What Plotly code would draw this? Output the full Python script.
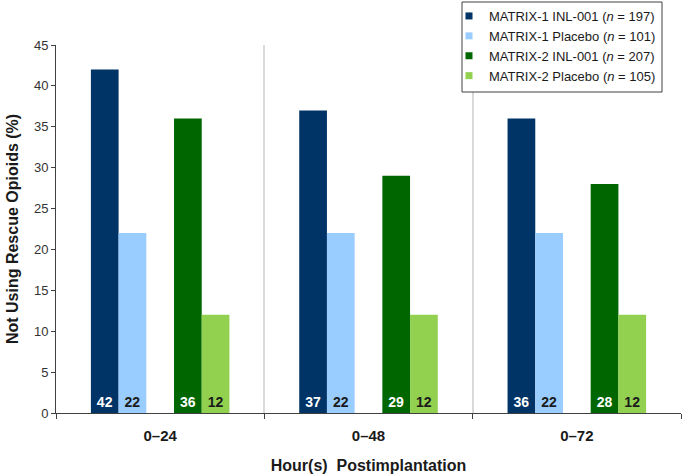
import plotly.graph_objects as go

categories = ["0–24", "0–48", "0–72"]
series_names = [
    "MATRIX-1 INL-001 (<i>n</i> = 197)",
    "MATRIX-1 Placebo (<i>n</i> = 101)",
    "MATRIX-2 INL-001 (<i>n</i> = 207)",
    "MATRIX-2 Placebo (<i>n</i> = 105)",
]
m1_inl = [42, 37, 36]
m1_pbo = [22, 22, 22]
m2_inl = [36, 29, 28]
m2_pbo = [12, 12, 12]
y_ticks = [0, 5, 10, 15, 20, 25, 30, 35, 40, 45]

values = [m1_inl, m1_pbo, m2_inl, m2_pbo]
colors = ["#003366", "#99CCFF", "#006600", "#92D050"]
text_colors = ["white", "#1a1a1a", "white", "#1a1a1a"]
bw = 0.133
offsets = [-2.5 * bw, -1.5 * bw, 0.5 * bw, 1.5 * bw]

W, H = 685, 474

fig = go.Figure()
for name, vals, col, tcol, off in zip(series_names, values, colors, text_colors, offsets):
    fig.add_trace(go.Bar(
        x=categories, y=vals, name=name, showlegend=False,
        marker=dict(color=col, line=dict(width=0)),
        width=bw, offset=off,
        text=[str(v) for v in vals], textposition="inside",
        insidetextanchor="start", textangle=0,
        textfont=dict(family="Arial, Liberation Sans", size=14, color=tcol, weight="bold"),
        cliponaxis=False,
    ))
# legend entries with small square swatches
for name, col in zip(series_names, colors):
    fig.add_trace(go.Scatter(
        x=[None], y=[None], mode="markers", name=name,
        marker=dict(symbol="square", size=7, color=col),
    ))

# legend frame (drawn as a paper shape so its size can match the original)
fig.add_shape(
    type="rect", xref="paper", yref="paper", layer="above",
    x0=(462 - 56) / 625, x1=(662 - 56) / 625,
    y0=(413 - 92) / 368, y1=(413 - 2) / 368,
    line=dict(color="#404040", width=1), fillcolor="white",
)

fig.update_layout(
    width=W, height=H,
    margin=dict(l=56, r=4, t=45, b=61, autoexpand=False),
    plot_bgcolor="white", paper_bgcolor="white",
    barmode="overlay",
    font=dict(family="Arial, Liberation Sans", color="#333333"),
    showlegend=True,
    legend=dict(
        xref="container", yref="container",
        x=449 / W, y=1 - 1 / H, xanchor="left", yanchor="top",
        bgcolor="rgba(0,0,0,0)", borderwidth=0,
        font=dict(size=13, color="#1a1a1a"),
        itemwidth=30, tracegroupgap=0,
    ),
    xaxis=dict(
        type="category", range=[-0.5, 2.5], automargin=False,
        tickson="boundaries", ticks="outside", ticklen=5, tickcolor="#404040",
        ticklabelstandoff=9,
        showline=True, linecolor="#404040", linewidth=1,
        showgrid=True, gridcolor="#D9D9D9", gridwidth=2,
        tickfont=dict(size=15, color="#1a1a1a", weight="bold"),
        title=dict(text="<b>Hour(s)  Postimplantation</b>", font=dict(size=16, color="#1a1a1a"), standoff=17),
    ),
    yaxis=dict(
        range=[0, 45], tickvals=y_ticks, ticks="outside", ticklen=4, tickcolor="#404040",
        showline=True, linecolor="#404040", linewidth=1, showgrid=False, zeroline=False,
        automargin=False,
        tickfont=dict(size=13, color="#333333"),
        title=dict(text="<b>Not Using Rescue Opioids (%)</b>", font=dict(size=16, color="#1a1a1a"), standoff=11),
    ),
)

fig.write_html("out.html", config={"displayModeBar": False},
               post_script="document.body.style.margin='0';")
